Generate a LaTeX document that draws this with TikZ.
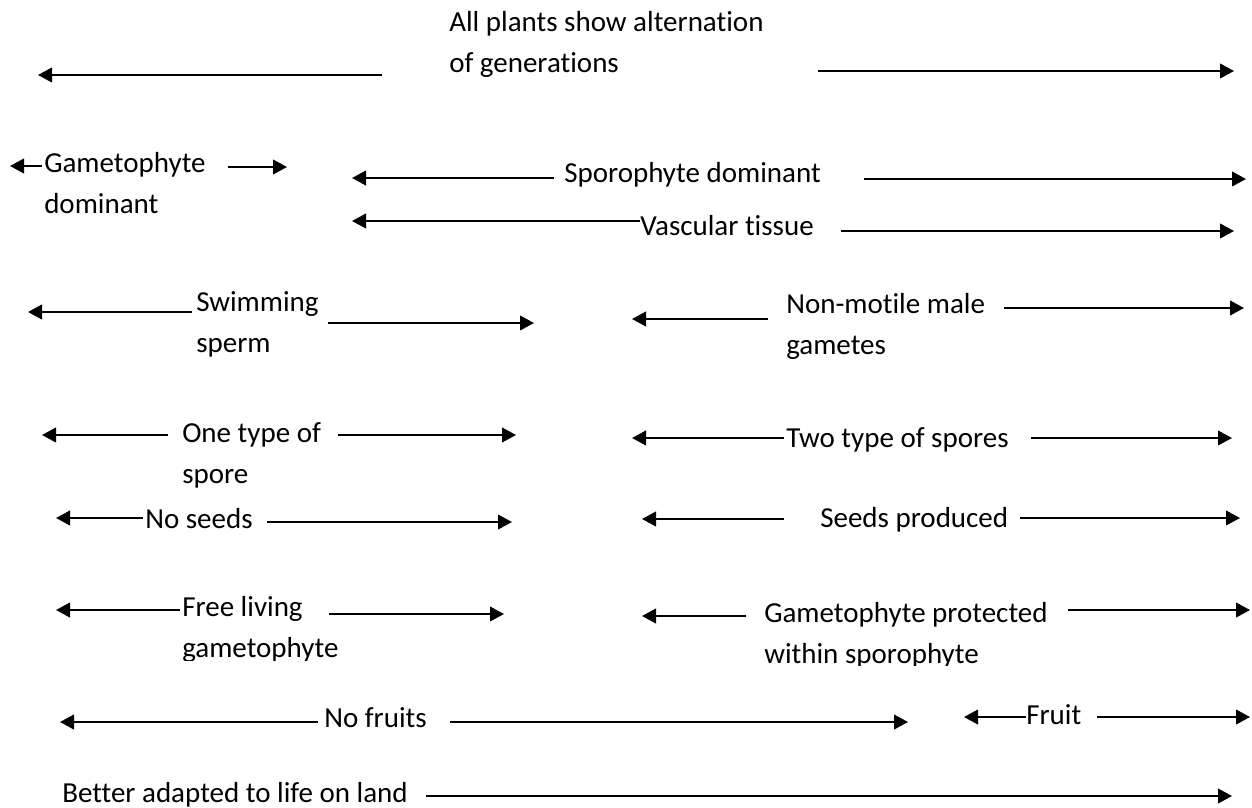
\documentclass[tikz,border=0pt]{standalone}
\usepackage{fontspec}
\setmainfont{Carlito}[Ligatures=NoCommon]
\usetikzlibrary{arrows.meta}

\begin{document}
\begin{tikzpicture}[x=0.75pt,y=-0.75pt,
		lbl/.style={inner sep=0pt,anchor=base west,align=left,font=\fontsize{21.75pt}{30.4pt}\selectfont},
		arr/.style={-{Triangle[length=10.5pt,width=11pt]},line width=1.4pt},
		tailgap/.style={shorten <=#1*0.75pt}]
			\useasboundingbox (0,0) rectangle (1252,807);
			% labels (base = last line)
			\node[lbl] (alt) at (449,72) {All plants show alternation\\of generations};
			\node[lbl] (gdom) at (44,213) {Gametophyte\\dominant};
			\node[lbl] (sdom) at (564,182) {Sporophyte dominant};
			\node[lbl] (vasc) at (640,235) {Vascular tissue};
			\node[lbl] (swim) at (196,352) {Swimming\\sperm};
			\node[lbl] (nonmot) at (786,354) {Non-motile male\\gametes};
			\node[lbl] (one) at (182,483) {One type of\\spore};
			\node[lbl] (two) at (786,447) {Two type of spores};
			\node[lbl] (noseed) at (145,528) {No seeds};
			\node[lbl] (seed) at (820,527) {Seeds produced};
			\begin{scope}
				\clip (0,0) rectangle (1252,660);
				\node[lbl] (free) at (182,657) {Free living\\gametophyte};
			\end{scope}
			\begin{scope}
				\clip (0,0) rectangle (1252,665);
				\node[lbl] (prot) at (764,663) {Gametophyte protected\\within sporophyte};
			\end{scope}
			\node[lbl] (nofruit) at (324,727) {No fruits};
			\node[lbl] (fruit) at (1026,724) {Fruit};
			\node[lbl] (land) at (62,802) {Better adapted to life on land};
			% arrow ends
			\coordinate (alt_l) at (38,75);      \coordinate (alt_r) at (1234,71);
			\coordinate (gdom_l) at (10,166);    \coordinate (gdom_r) at (287,167);
			\coordinate (sdom_l) at (352,178);   \coordinate (sdom_r) at (1246,179);
			\coordinate (vasc_l) at (352,221);   \coordinate (vasc_r) at (1234,231);
			\coordinate (swim_l) at (28,312);    \coordinate (swim_r) at (534,323);
			\coordinate (nonmot_l) at (632,319); \coordinate (nonmot_r) at (1244,308);
			\coordinate (one_l) at (42,435);     \coordinate (one_r) at (516,435);
			\coordinate (two_l) at (632,438);    \coordinate (two_r) at (1232,438);
			\coordinate (noseed_l) at (56,518);  \coordinate (noseed_r) at (512,522);
			\coordinate (seed_l) at (642,519);   \coordinate (seed_r) at (1240,518);
			\coordinate (free_l) at (56,610);    \coordinate (free_r) at (504,614);
			\coordinate (prot_l) at (642,616);   \coordinate (prot_r) at (1250,610);
			\coordinate (nofruit_l) at (60,722); \coordinate (nofruit_r) at (908,722);
			\coordinate (fruit_l) at (964,717);  \coordinate (fruit_r) at (1250,717);
			\coordinate (land_r) at (1232,796);
			\path[arr]
			(alt.west |- alt_l) edge [tailgap=67] (alt_l)
			(alt.east |- alt_r) edge [tailgap=54] (alt_r)
			(gdom.west |- gdom_l) edge [tailgap=2] (gdom_l)
			(gdom.east |- gdom_r) edge [tailgap=22] (gdom_r)
			(sdom.west |- sdom_l) edge [tailgap=10] (sdom_l)
			(sdom.east |- sdom_r) edge [tailgap=43] (sdom_r)
			(vasc.west |- vasc_l) edge [tailgap=0] (vasc_l)
			(vasc.east |- vasc_r) edge [tailgap=27] (vasc_r)
			(swim.west |- swim_l) edge [tailgap=4] (swim_l)
			(swim.east |- swim_r) edge [tailgap=9] (swim_r)
			(nonmot.west |- nonmot_l) edge [tailgap=18] (nonmot_l)
			(nonmot.east |- nonmot_r) edge [tailgap=19] (nonmot_r)
			(one.west |- one_l) edge [tailgap=14] (one_l)
			(one.east |- one_r) edge [tailgap=17] (one_r)
			(two.west |- two_l) edge [tailgap=2] (two_l)
			(two.east |- two_r) edge [tailgap=22] (two_r)
			(noseed.west |- noseed_l) edge [tailgap=2] (noseed_l)
			(noseed.east |- noseed_r) edge [tailgap=14] (noseed_r)
			(seed.west |- seed_l) edge [tailgap=36] (seed_l)
			(seed.east |- seed_r) edge [tailgap=12] (seed_r)
			(free.west |- free_l) edge [tailgap=2] (free_l)
			(free.east |- free_r) edge [tailgap=-10] (free_r)
			(prot.west |- prot_l) edge [tailgap=18] (prot_l)
			(prot.east |- prot_r) edge [tailgap=20] (prot_r)
			(nofruit.west |- nofruit_l) edge [tailgap=6] (nofruit_l)
			(nofruit.east |- nofruit_r) edge [tailgap=23] (nofruit_r)
			(fruit.west |- fruit_l) edge [tailgap=0] (fruit_l)
			(fruit.east |- fruit_r) edge [tailgap=15] (fruit_r)
			(land.east |- land_r) edge [tailgap=18] (land_r);
		\end{tikzpicture}
\end{document}
